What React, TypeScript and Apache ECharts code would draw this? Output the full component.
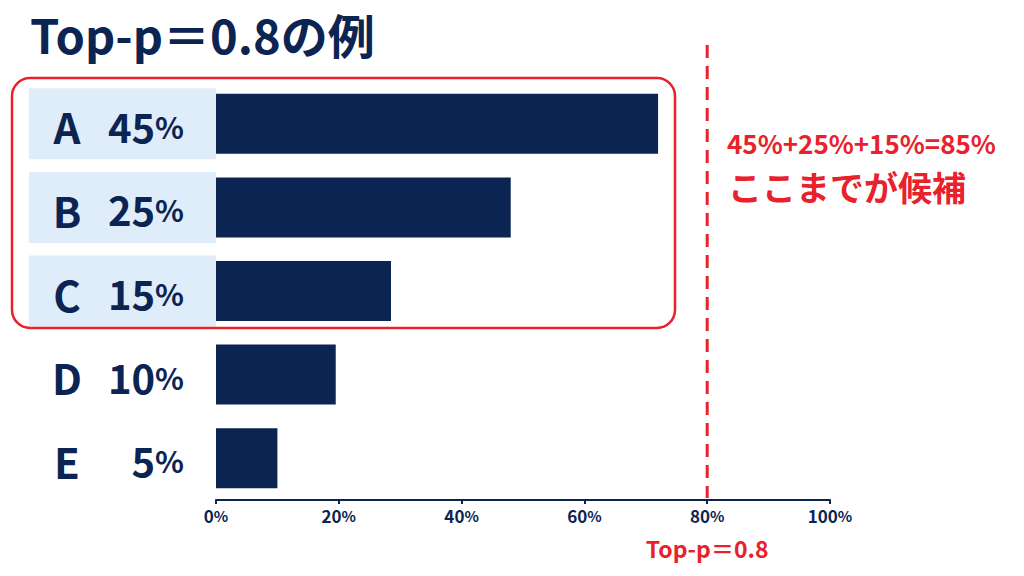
import { useEffect, useRef } from 'react';
import * as echarts from 'echarts';

const categories = ['A', 'B', 'C', 'D', 'E'];
const shares = ['45', '25', '15', '10', '5'];
const barValues = [72, 48, 28.5, 19.5, 10];
const inTopP = [true, true, true, false, false];
const xTicks = [0, 20, 40, 60, 80, 100];
const topP = 80;

const NAVY = '#0c2452';
const RED = '#e8212b';
const FONT = '"Noto Sans CJK JP", "Noto Sans", sans-serif';

export default function App() {
  const ref = useRef<HTMLDivElement>(null);

  useEffect(() => {
    if (!ref.current) return;
    const chart = echarts.init(ref.current, null, { renderer: 'svg' });
    chart.setOption({
      animation: false,
      backgroundColor: '#ffffff',
      textStyle: { fontFamily: FONT },
      grid: { left: 216, right: 194, top: 82, bottom: 76 },
      xAxis: {
        type: 'value',
        min: xTicks[0],
        max: xTicks[xTicks.length - 1],
        interval: 20,
        splitLine: { show: false },
        axisLine: { show: true, lineStyle: { color: NAVY, width: 2 } },
        axisTick: { show: true, length: 4, lineStyle: { color: NAVY, width: 2 } },
        axisLabel: {
          margin: 7,
          formatter: (v: number) => `{n|${v}}{s|%}`,
          rich: {
            n: { color: NAVY, fontSize: 17, fontWeight: 'bold', fontFamily: FONT },
            s: { color: NAVY, fontSize: 15, fontWeight: 'bold', fontFamily: FONT },
          },
        },
      },
      yAxis: {
        type: 'category',
        inverse: true,
        data: categories,
        axisLine: { show: false },
        axisTick: { show: false },
        axisLabel: { show: false },
      },
      series: [
        {
          type: 'bar',
          data: barValues,
          barWidth: 60,
          itemStyle: { color: NAVY },
          silent: true,
        },
        {
          type: 'custom',
          silent: true,
          data: categories.map((_, i) => [0, i]),
          encode: { x: 0, y: 1 },
          renderItem: (params: any, api: any) => {
            const i = params.dataIndex;
            const [x0, yc] = api.coord([0, i]);
            const children: any[] = [];
            if (inTopP[i]) {
              children.push({
                type: 'rect',
                shape: { x: 29, y: yc - 35.5, width: x0 - 29, height: 71 },
                style: { fill: '#deedf9' },
              });
            }
            children.push({
              type: 'text',
              style: {
                x: 67,
                y: yc + 2,
                text: categories[i],
                fill: NAVY,
                font: `bold 42px ${FONT}`,
                align: 'center',
                verticalAlign: 'middle',
              },
            });
            children.push({
              type: 'text',
              style: {
                x: 184,
                y: yc + 2,
                text: `{n|${shares[i]}}{s|%}`,
                align: 'right',
                verticalAlign: 'middle',
                rich: {
                  n: { fill: NAVY, fontSize: 40, fontWeight: 'bold', fontFamily: FONT },
                  s: { fill: NAVY, fontSize: 30, fontWeight: 'bold', fontFamily: FONT },
                },
              },
            });
            return { type: 'group', children };
          },
          z: 3,
        },
      ],
    });

    const lineX = chart.convertToPixel({ xAxisIndex: 0 }, topP) as number;
    chart.setOption({
      graphic: [
        {
          type: 'text',
          left: 30,
          top: 10,
          style: {
            text: 'Top-p＝0.8の例',
            fill: NAVY,
            font: `bold 47px ${FONT}`,
          },
        },
        {
          type: 'rect',
          shape: { x: 12, y: 78, width: 663, height: 250, r: 18 },
          style: { fill: 'none', stroke: RED, lineWidth: 2.5 },
          z: 10,
        },
        {
          type: 'line',
          shape: { x1: lineX, y1: 45, x2: lineX, y2: 498 },
          style: { stroke: RED, lineWidth: 3, lineDash: [13, 8] },
          z: 10,
        },
        {
          type: 'text',
          x: 727,
          y: 142,
          style: {
            text: '45%+25%+15%=85%',
            fill: RED,
            font: `bold 26px ${FONT}`,
            verticalAlign: 'middle',
          },
        },
        {
          type: 'text',
          x: 728,
          y: 186,
          style: {
            text: 'ここまでが候補',
            fill: RED,
            font: `bold 34px ${FONT}`,
            verticalAlign: 'middle',
          },
        },
        {
          type: 'text',
          x: lineX,
          y: 548,
          style: {
            text: 'Top-p＝0.8',
            fill: RED,
            font: `bold 23px ${FONT}`,
            align: 'center',
            verticalAlign: 'middle',
          },
        },
      ],
    });

    return () => {
      chart.dispose();
    };
  }, []);

  return <div ref={ref} style={{ position: 'fixed', left: 0, top: 0, width: 1024, height: 576 }} />;
}
